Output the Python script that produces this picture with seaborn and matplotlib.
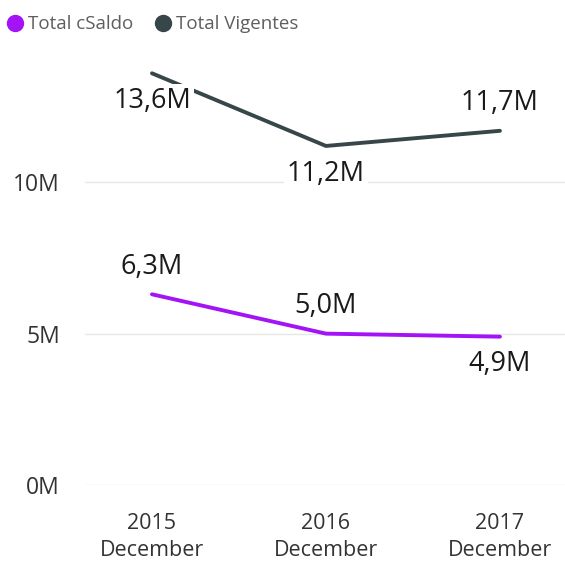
import pandas as pd
import seaborn as sns
import matplotlib.pyplot as plt
from matplotlib.lines import Line2D

# datos
periodos = ["2015\nDecember", "2016\nDecember", "2017\nDecember"]
total_vigentes = [13.6, 11.2, 11.7]
total_csaldo = [6.3, 5.0, 4.9]
series = ["Total cSaldo", "Total Vigentes"]
ticks_y = [0, 5, 10]
tick_labels_y = ["0M", "5M", "10M"]
# posicion de etiquetas: +1 arriba, -1 abajo
pos_vigentes = [-1, -1, 1]
pos_csaldo = [1, 1, -1]

colores = {"Total cSaldo": "#A313F6", "Total Vigentes": "#374649"}

df = pd.DataFrame({
    "Periodo": periodos * 2,
    "x": list(range(len(periodos))) * 2,
    "Valor": total_csaldo + total_vigentes,
    "Serie": ["Total cSaldo"] * 3 + ["Total Vigentes"] * 3,
})

sns.set_style("white")
plt.rcParams["font.family"] = ["Open Sans", "DejaVu Sans"]

fig = plt.figure(figsize=(5.65, 5.78), dpi=100)
ax = fig.add_axes([85 / 565, 93 / 578, 480 / 565, 445 / 578])

sns.lineplot(data=df, x="x", y="Valor", hue="Serie", palette=colores,
             linewidth=2.8, legend=False, ax=ax, zorder=2)

# etiquetas de datos
for serie, vals, pos in [("Total Vigentes", total_vigentes, pos_vigentes),
                         ("Total cSaldo", total_csaldo, pos_csaldo)]:
    for i, (v, p) in enumerate(zip(vals, pos)):
        ax.annotate(f"{v:.1f}M".replace(".", ","), (i, v),
                    xytext=(0, 20 * p), textcoords="offset points",
                    ha="center", va="center", fontsize=19.5, color="#1a1a1a",
                    zorder=5,
                    bbox=dict(boxstyle="square,pad=0.12", fc="white", ec="none"))

ax.set_xlim(-0.385, 2.374)
ax.set_ylim(0, 14.7)
ax.set_xticks(range(len(periodos)))
ax.set_xticklabels(periodos, fontsize=15.5, color="#333333", linespacing=1.4)
ax.set_yticks(ticks_y)
ax.set_yticklabels(tick_labels_y, fontsize=16.5, color="#333333")
ax.tick_params(axis="x", length=0, pad=20)
ax.tick_params(axis="y", length=0, pad=18)
ax.grid(axis="y", color="#e6e6e6", linewidth=1)
ax.set_xlabel("")
ax.set_ylabel("")
sns.despine(ax=ax, left=True, bottom=True)

# leyenda
handles = [Line2D([], [], marker="o", linestyle="none", markersize=11.5,
                  color=colores[s]) for s in series]
fig.legend(handles, series, loc="upper left", bbox_to_anchor=(-0.037, 1.003),
           ncol=2, frameon=False, fontsize=13.5, handletextpad=-0.3,
           columnspacing=0.6, labelcolor="#605E5C")

fig.savefig("out.png", dpi=100)
